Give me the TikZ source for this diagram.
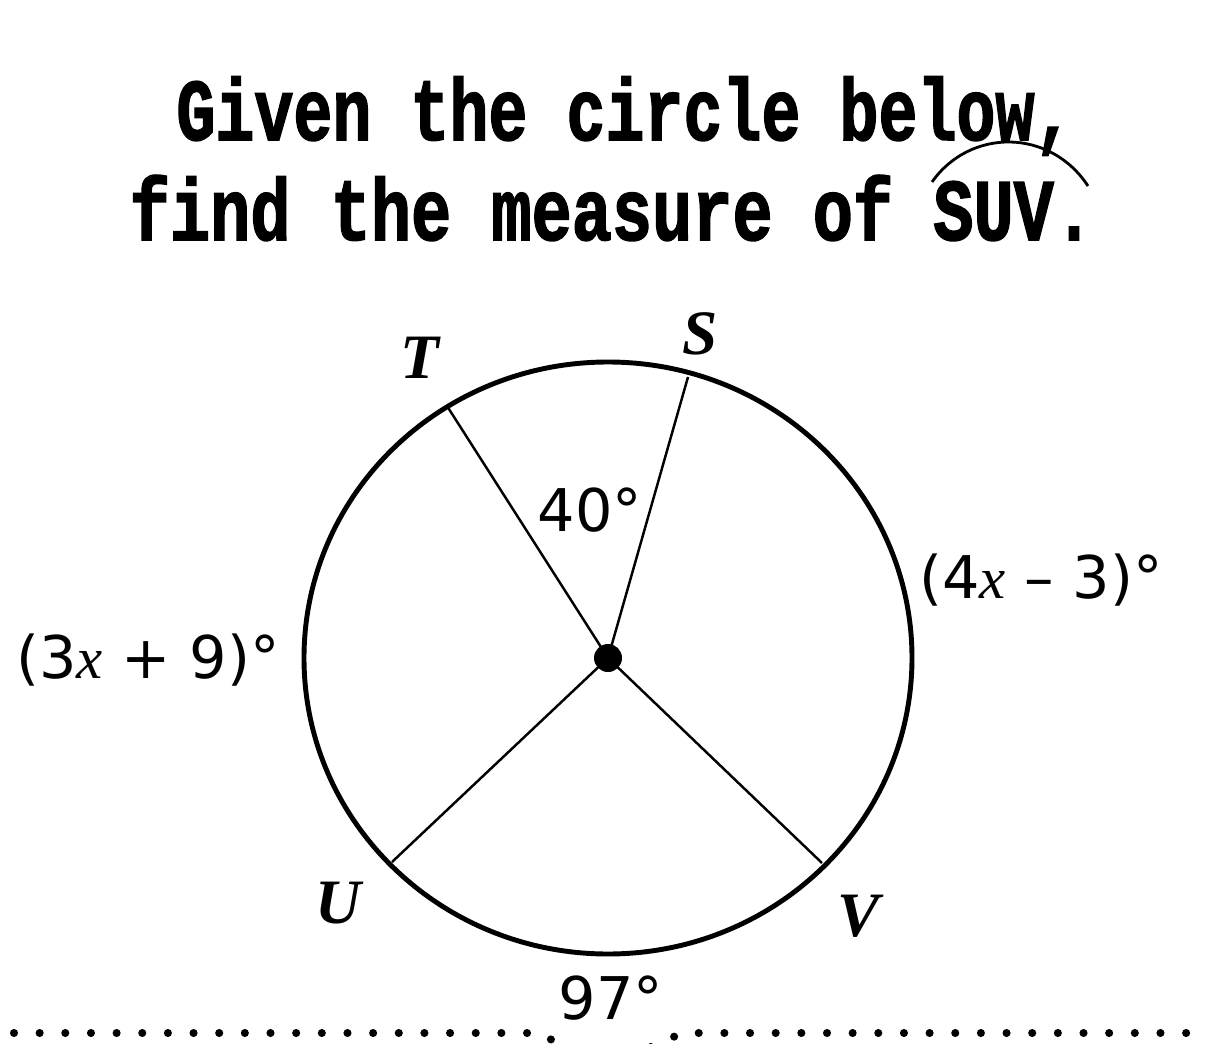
\documentclass[tikz,border=0pt]{standalone}
\usepackage{fontspec}
\usepackage{tikz}
\usetikzlibrary{arrows}
\usetikzlibrary{shapes}
\setmainfont{DejaVu Sans}
\newfontfamily\titlefont[FakeBold=2]{Liberation Mono Bold}
\newfontfamily\ptfont{Liberation Serif}
\newcommand{\varx}{{\ptfont\itshape x}}

\tikzset{
    titleline/.style = {font = \fontsize{37}{44}\selectfont\titlefont, inner sep = 0pt, anchor = base, yscale = 1.35, transform shape},
    ptlabel/.style = {font = \fontsize{36}{40}\selectfont\ptfont\bfseries\itshape, inner sep = 0pt},
    anglabel/.style = {font = \fontsize{33.5}{40}\selectfont, inner sep = 0pt},
    radius line/.style = {line width = 1.4pt},
}

\begin{document}
\begin{tikzpicture}[x = 0.02cm, y = -0.02cm]
        \useasboundingbox (0, 0) rectangle (1214, 1044);

        % title
        \node[titleline] (line1) at (625, 140) {Given the circle below,};
        \node[titleline, xscale = 1.03] (line2) at (612, 240) {find the measure of SUV.};
        \coordinate (arcL) at (932, 182);
        \coordinate (arcR) at (1088, 186);
        \draw[line width = 1.6pt] (arcL) .. controls (970, 128) and (1050, 128) .. (arcR);

        % circle and radii
        \coordinate (O) at (608, 658);
        \coordinate (T) at (447, 406);
        \coordinate (S) at (688, 377);
        \coordinate (U) at (392, 862);
        \coordinate (V) at (822, 863);
        \draw[line width = 2.8pt] (O) ellipse (304 and 296);
        \draw[radius line] (O) -- (T);
        \draw[radius line] (O) -- (S);
        \draw[radius line] (O) -- (U);
        \draw[radius line] (O) -- (V);
        \fill (O) circle (14);

        % point labels
        \node[ptlabel] (labT) at (420, 358) {T};
        \node[ptlabel] (labS) at (700, 334) {S};
        \node[ptlabel] (labU) at (338, 903) {U};
        \node[ptlabel] (labV) at (859, 916) {V};

        % arc measures
        \node[anglabel] (a40) at (590, 510) {40°};
        \node[anglabel] (a4x) at (1041, 580) {(4\varx\ – 3)°};
        \node[anglabel] (a3x) at (148, 660) {(3\varx\ + 9)°};
        \node[anglabel] (a97) at (611, 998) {97°};

        % dotted rule
        \coordinate (ruleL) at (14, 1033);
        \coordinate (ruleR) at (1198, 1033);
        \draw[line width = 4.6pt, line cap = round, dash pattern = on 0pt off 14.6pt]
            (ruleL) -- (540, 1033) .. controls (580, 1060) and (640, 1060) .. (680, 1033) -- (ruleR);
    \end{tikzpicture}
\end{document}
